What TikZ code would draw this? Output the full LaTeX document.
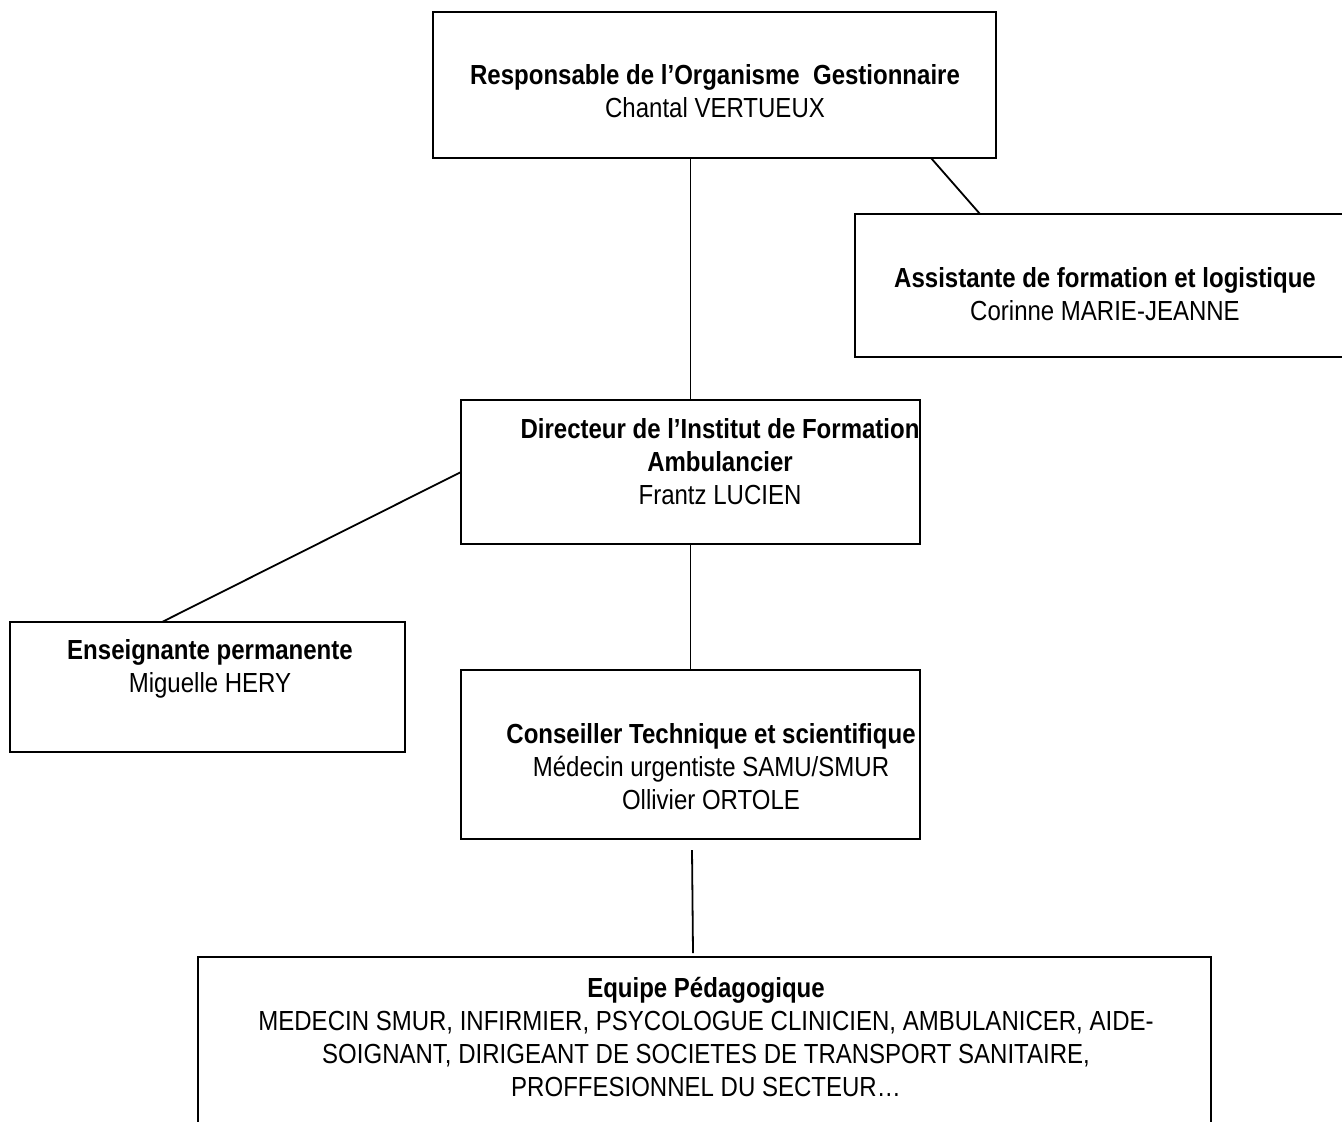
\documentclass[tikz,border=0pt]{standalone}
\usepackage{fontspec}
\setmainfont{Liberation Sans}[FakeStretch=0.87]
\usepackage{tikz}
\usetikzlibrary{positioning,calc}

\begin{document}
\begin{tikzpicture}[x=0.5pt,y=-0.5pt,
    box/.style={draw, line width=1pt, inner sep=0pt, outer sep=0pt},
    txt/.style={anchor=north, align=center, inner sep=0pt, font=\fontsize{13.8}{16.5}\selectfont},
    link/.style={line width=0.9pt}]
    % Frame
    \useasboundingbox (0,0) rectangle (1342,1121);
    \clip (0,0) rectangle (1342,1121);

    % Boxes
    \node[box, minimum width=281.5pt, minimum height=73pt] (resp) at (714.5,85) {};
    \node[box, minimum width=247.5pt, minimum height=71.5pt] (asst) at (1102.5,285.5) {};
    \node[box, minimum width=229.5pt, minimum height=72pt] (dir) at (690.5,472) {};
    \node[box, minimum width=197.5pt, minimum height=65pt] (ens) at (207.5,687) {};
    \node[box, minimum width=229.5pt, minimum height=84.5pt] (cons) at (690.5,754.5) {};
    \node[box, minimum width=506.5pt, minimum height=91.5pt] (equipe) at (704.5,1048.5) {};

    % Texts
    \node[txt] (respT) at (715,64) {\textbf{Responsable de l’Organisme\ \ Gestionnaire}\\Chantal VERTUEUX};
    \node[txt] (asstT) at (1105,267) {\textbf{Assistante de formation et logistique}\\Corinne MARIE-JEANNE};
    \node[txt] (dirT) at (720,418) {\textbf{Directeur de l’Institut de Formation}\\\textbf{Ambulancier}\\Frantz LUCIEN};
    \node[txt] (ensT) at (210,639) {\textbf{Enseignante permanente}\\Miguelle HERY};
    \node[txt] (consT) at (711,723) {\textbf{Conseiller Technique et scientifique}\\Médecin urgentiste SAMU/SMUR\\Ollivier ORTOLE};
    \node[txt] (equipeT) at (706,977) {\textbf{Equipe Pédagogique}\\MEDECIN SMUR, INFIRMIER, PSYCOLOGUE CLINICIEN, AMBULANICER, AIDE-\\SOIGNANT, DIRIGEANT DE SOCIETES DE TRANSPORT SANITAIRE,\\PROFFESIONNEL DU SECTEUR…};

    % Links
    \draw[link] (dir.north) -- (dir.north |- resp.south);
    \coordinate (respR) at ($(resp.south east)+(-65,0)$);
    \coordinate (asstL) at ($(asst.north west)+(125,0)$);
    \draw[link] (respR) -- (asstL);
    \coordinate (ensTop) at ($(ens.north west)+(152,0)$);
    \draw[link] (dir.west) -- (ensTop);
    \draw[link] (dir.south) -- (cons.north);
    \coordinate (consBot) at ($(cons.south)+(1.5,11)$);
    \coordinate (equipeTop) at ($(equipe.north)+(-11.5,-4)$);
    \draw[link] (consBot) -- (equipeTop);
\end{tikzpicture}
\end{document}
